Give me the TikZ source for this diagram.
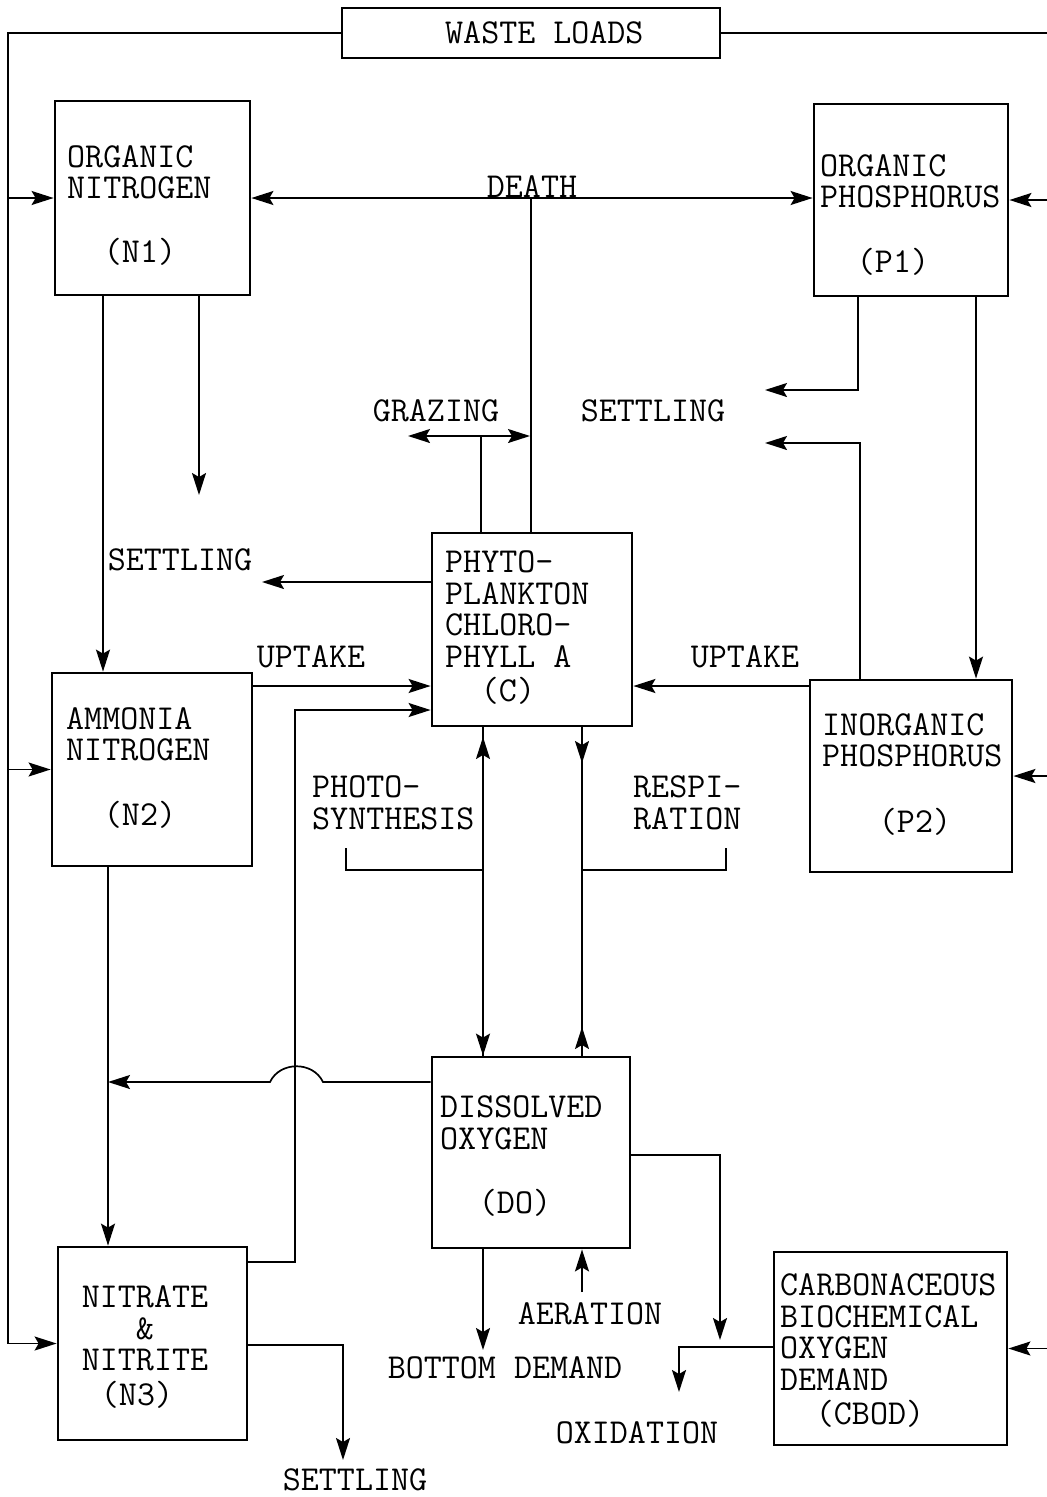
\documentclass[tikz,border=0pt]{standalone}
\usepackage{fontspec}
\usetikzlibrary{arrows.meta,calc}
\begin{document}
\begin{tikzpicture}[x=1pt,y=-1pt,
  box/.style={draw,line width=2.8pt,inner sep=0pt,rectangle},
  conn/.style={line width=1.7pt},
  tipx/.tip={Stealth[length=22pt,width=14pt,inset=4pt]},
  arr/.style={conn,-tipx},
  arrb/.style={conn,tipx-tipx},
  lbl/.style={font=\ttfamily\fontsize{35}{31.5}\selectfont,inner sep=0pt,align=left},
  lblc/.style={lbl,align=center}]
\useasboundingbox (0,0) rectangle (1047,1497);

% boxes
\node[box,minimum width=378pt,minimum height=50pt] (WL) at (531,33) {};
\node[box,minimum width=195pt,minimum height=194pt] (N1) at (152.5,198) {};
\node[box,minimum width=194pt,minimum height=192pt] (P1) at (911,200) {};
\node[box,minimum width=200pt,minimum height=193pt] (C) at (532,629.5) {};
\node[box,minimum width=200pt,minimum height=193pt] (N2) at (152,769.5) {};
\node[box,minimum width=202pt,minimum height=192pt] (P2) at (911,776) {};
\node[box,minimum width=198pt,minimum height=191pt] (DO) at (531,1152.5) {};
\node[box,minimum width=189pt,minimum height=193pt] (N3) at (152.5,1343.5) {};
\node[box,minimum width=233pt,minimum height=193pt] (CBOD) at (890.5,1348.5) {};

% box texts
\node[lbl,anchor=west] (tWL) at (445,33) {WASTE LOADS};
\node[lbl,anchor=west] (tN1) at (67,172.5) {ORGANIC\\NITROGEN};
\node[lbl] (tN1b) at (140,252) {(N1)};
\node[lbl,anchor=west] (tP1) at (820,181.5) {ORGANIC\\PHOSPHORUS};
\node[lbl] (tP1b) at (893,262) {(P1)};
\node[lbl,anchor=west] (tC) at (445,609) {PHYTO-\\PLANKTON\\CHLORO-\\PHYLL A};
\node[lbl] (tCb) at (508,691) {(C)};
\node[lbl,anchor=west] (tN2) at (66,734.5) {AMMONIA\\NITROGEN};
\node[lbl] (tN2b) at (140,815) {(N2)};
\node[lbl,anchor=west] (tP2) at (822,740.5) {INORGANIC\\PHOSPHORUS};
\node[lbl] (tP2b) at (915,822) {(P2)};
\node[lbl,anchor=west] (tDO) at (440,1123) {DISSOLVED\\OXYGEN};
\node[lbl] (tDOb) at (515,1203) {(DO)};
\node[lblc] (tN3) at (145,1328.5) {NITRATE\\\&\\NITRITE};
\node[lbl] (tN3b) at (137,1395) {(N3)};
\node[lbl,anchor=west] (tCB) at (780,1332) {CARBONACEOUS\\BIOCHEMICAL\\OXYGEN\\DEMAND};
\node[lbl] (tCBb) at (870,1414) {(CBOD)};

% process labels
\node[lbl] (death) at (532,187) {DEATH};
\node[lbl] (graz) at (436,411) {GRAZING};
\node[lbl] (setUR) at (653,411) {SETTLING};
\node[lbl] (setL) at (180,560) {SETTLING};
\node[lbl] (upL) at (311,657) {UPTAKE};
\node[lbl] (upR) at (745,657) {UPTAKE};
\node[lbl,anchor=west] (photo) at (312,803) {PHOTO-\\SYNTHESIS};
\node[lbl,anchor=west] (resp) at (633,803) {RESPI-\\RATION};
\node[lbl] (aer) at (590,1314) {AERATION};
\node[lbl] (bot) at (505,1368) {BOTTOM DEMAND};
\node[lbl] (oxi) at (637,1433) {OXIDATION};
\node[lbl] (setB) at (355,1480) {SETTLING};

% free ends
\coordinate (LT) at (8,33);
\coordinate (LB) at (8,1343.5);
\coordinate (RT) at (1047,33);
\coordinate (gzL) at (408,436);
\coordinate (gzR) at (530,436);
\coordinate (gzM) at (481,436);
\coordinate (sN1) at (199,495);
\coordinate (sP1a) at (765,390);
\coordinate (sP1b) at (765,443);
\coordinate (sC) at (262,582);
\coordinate (jN3) at (295,710);
\coordinate (sN3) at (343,1460);
\coordinate (bd) at (483,1350);
\coordinate (ae) at (582,1292);
\coordinate (ox) at (679,1392);
\coordinate (dc) at (720,1340);

% waste loads
\draw[conn] (WL.west) -- (LT) -- (LB);
\draw[conn] (WL.east) -- (RT);
\draw[arr] (8,0 |- N1.west) -- (N1.west);
\draw[arr] (8,0 |- N2.west) -- (N2.west);
\draw[arr] (LB) -- (N3.west);
\draw[arr] (1047,0 |- P1.east) -- (P1.east);
\draw[arr] (1047,0 |- P2.east) -- (P2.east);
\draw[arr] (1047,0 |- CBOD.east) -- (CBOD.east);

% death
\draw[arrb] (N1.east) -- (P1.west |- N1.east);
\draw[conn] (531,0 |- N1.east) -- (531,0 |- C.north);

% grazing
\draw[arrb] (gzL) -- (gzR);
\draw[conn] (gzM) -- (481,0 |- C.north);

% settling
\draw[arr] (199,0 |- N1.south) -- (sN1);
\draw[arr] (858,0 |- P1.south) |- (sP1a);
\draw[arr] (860,0 |- P2.north) |- (sP1b);
\draw[arr] (C.west |- sC) -- (sC);

% N1 -> N2, P1 -> P2
\draw[arr] (103,0 |- N1.south) -- (103,0 |- N2.north);
\draw[arr] (976,0 |- P1.south) -- (976,0 |- P2.north);

% uptake
\draw[arr] (N2.east |- 0,686) -- (C.west |- 0,686);
\draw[arr] (P2.west |- 0,686) -- (C.east |- 0,686);
\draw[arr] (N3.east |- 0,1262) -- (295,1262) -- (jN3) -- (C.west |- jN3);

% photosynthesis / respiration
\draw[conn] (483,0 |- C.south) -- (483,0 |- DO.north);
\draw[arr] (483,762) -- (483,737);
\draw[arr] (483,1030) -- (483,0 |- DO.north);
\draw[conn] (582,0 |- C.south) -- (582,0 |- DO.north);
\draw[arr] (582,738) -- (582,763);
\draw[arr] (582,1052) -- (582,1027);
\draw[conn] (346,848) -- (346,870) -- (483,870);
\draw[conn] (582,870) -- (726,870) -- (726,848);

% DO -> N column with hump
\draw[arr] (DO.west |- 0,1082) -- (323,1082) .. controls (313,1061) and (280,1061) .. (270,1082) -- (108,1082);

% N2 -> N3
\draw[arr] (108,0 |- N2.south) -- (108,0 |- N3.north);

% N3 settling
\draw[arr] (N3.east |- 0,1345) -| (sN3);

% DO bottom
\draw[arr] (483,0 |- DO.south) -- (bd);
\draw[arr] (ae) -- (582,0 |- DO.south);
\draw[arr] (DO.east |- 0,1155) -| (dc);
\draw[arr] (CBOD.west |- 0,1347) -| (ox);
\end{tikzpicture}
\end{document}
